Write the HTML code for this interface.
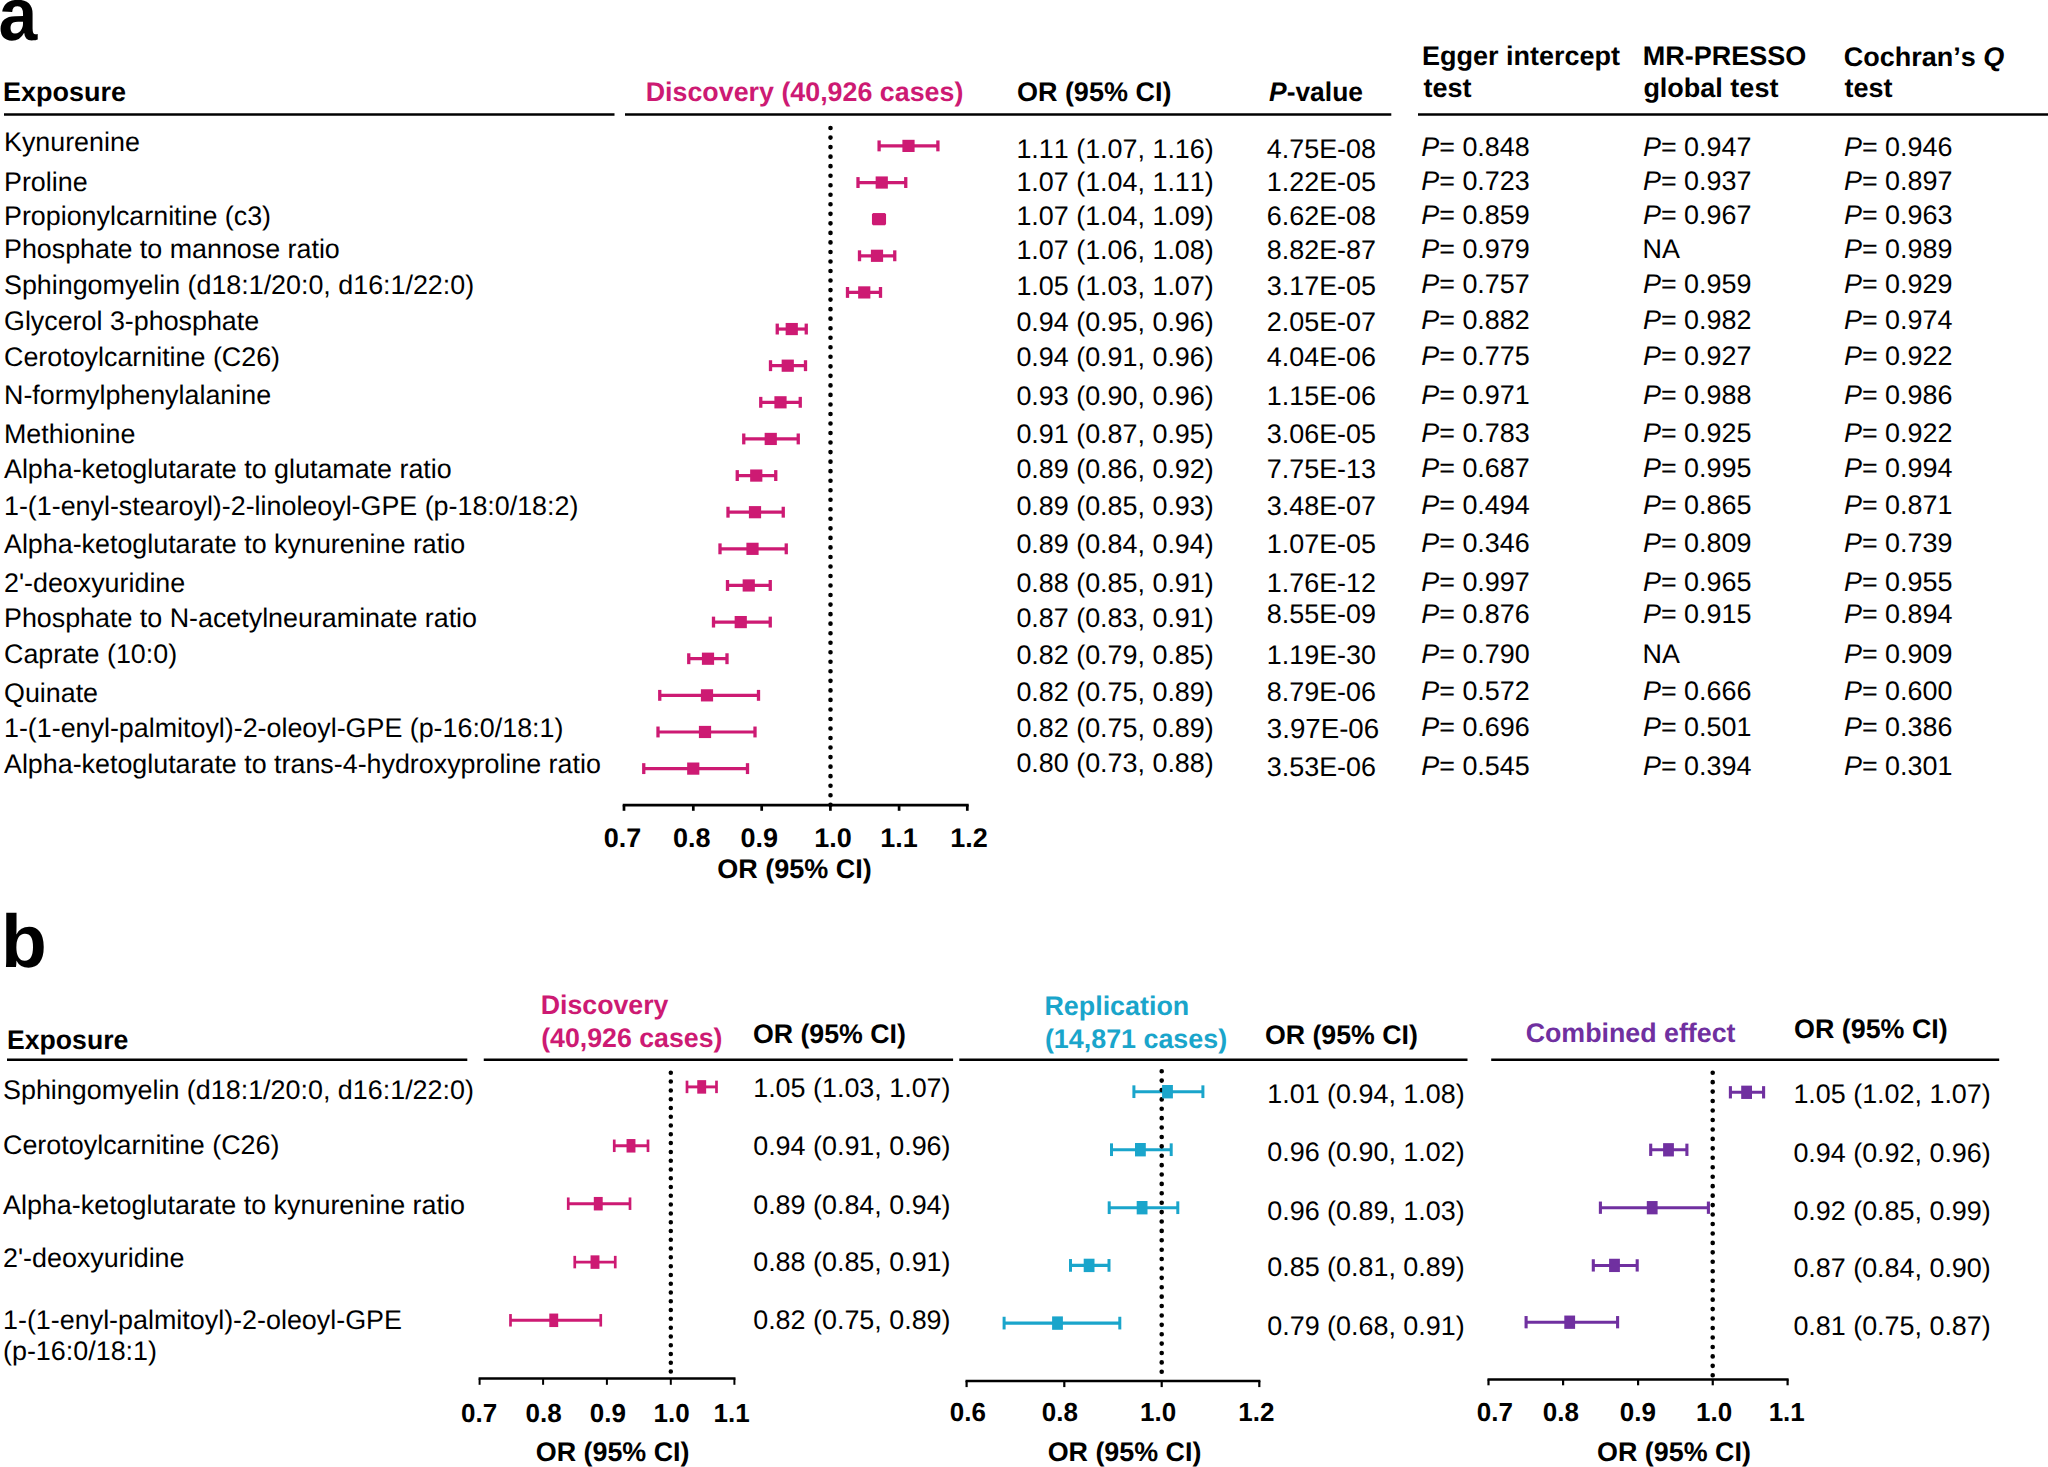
<!DOCTYPE html>
<html lang="en"><head><meta charset="utf-8"><title>Forest plots</title>
<style>
html,body{margin:0;padding:0;background:#fff}
body{width:2048px;height:1467px;overflow:hidden}
svg{display:block}
text{font-family:"Liberation Sans",sans-serif;font-kerning:none;text-rendering:geometricPrecision;white-space:pre}
</style></head><body>
<svg width="2048" height="1467" viewBox="0 0 2048 1467" role="img" aria-label="Forest plots of Mendelian randomization odds ratios">
<rect width="2048" height="1467" fill="#fff"/>
<g id="whiskers">
<line x1="879.10" y1="145.90" x2="937.90" y2="145.90" stroke="#cd1a73" stroke-width="3.2"/>
<line x1="879.10" y1="140.45" x2="879.10" y2="151.35" stroke="#cd1a73" stroke-width="3.3"/>
<line x1="937.90" y1="140.45" x2="937.90" y2="151.35" stroke="#cd1a73" stroke-width="3.3"/>
<line x1="858.00" y1="182.53" x2="905.75" y2="182.53" stroke="#cd1a73" stroke-width="3.2"/>
<line x1="858.00" y1="177.08" x2="858.00" y2="187.98" stroke="#cd1a73" stroke-width="3.3"/>
<line x1="905.75" y1="177.08" x2="905.75" y2="187.98" stroke="#cd1a73" stroke-width="3.3"/>
<line x1="873.60" y1="219.16" x2="884.40" y2="219.16" stroke="#cd1a73" stroke-width="3.2"/>
<line x1="873.60" y1="213.71" x2="873.60" y2="224.61" stroke="#cd1a73" stroke-width="3.3"/>
<line x1="884.40" y1="213.71" x2="884.40" y2="224.61" stroke="#cd1a73" stroke-width="3.3"/>
<line x1="859.50" y1="255.79" x2="894.75" y2="255.79" stroke="#cd1a73" stroke-width="3.2"/>
<line x1="859.50" y1="250.34" x2="859.50" y2="261.24" stroke="#cd1a73" stroke-width="3.3"/>
<line x1="894.75" y1="250.34" x2="894.75" y2="261.24" stroke="#cd1a73" stroke-width="3.3"/>
<line x1="847.50" y1="292.42" x2="880.50" y2="292.42" stroke="#cd1a73" stroke-width="3.2"/>
<line x1="847.50" y1="286.97" x2="847.50" y2="297.87" stroke="#cd1a73" stroke-width="3.3"/>
<line x1="880.50" y1="286.97" x2="880.50" y2="297.87" stroke="#cd1a73" stroke-width="3.3"/>
<line x1="777.25" y1="329.05" x2="806.25" y2="329.05" stroke="#cd1a73" stroke-width="3.2"/>
<line x1="777.25" y1="323.60" x2="777.25" y2="334.50" stroke="#cd1a73" stroke-width="3.3"/>
<line x1="806.25" y1="323.60" x2="806.25" y2="334.50" stroke="#cd1a73" stroke-width="3.3"/>
<line x1="770.50" y1="365.68" x2="805.50" y2="365.68" stroke="#cd1a73" stroke-width="3.2"/>
<line x1="770.50" y1="360.23" x2="770.50" y2="371.13" stroke="#cd1a73" stroke-width="3.3"/>
<line x1="805.50" y1="360.23" x2="805.50" y2="371.13" stroke="#cd1a73" stroke-width="3.3"/>
<line x1="760.75" y1="402.31" x2="800.25" y2="402.31" stroke="#cd1a73" stroke-width="3.2"/>
<line x1="760.75" y1="396.86" x2="760.75" y2="407.76" stroke="#cd1a73" stroke-width="3.3"/>
<line x1="800.25" y1="396.86" x2="800.25" y2="407.76" stroke="#cd1a73" stroke-width="3.3"/>
<line x1="743.75" y1="438.94" x2="798.25" y2="438.94" stroke="#cd1a73" stroke-width="3.2"/>
<line x1="743.75" y1="433.49" x2="743.75" y2="444.39" stroke="#cd1a73" stroke-width="3.3"/>
<line x1="798.25" y1="433.49" x2="798.25" y2="444.39" stroke="#cd1a73" stroke-width="3.3"/>
<line x1="737.25" y1="475.57" x2="775.75" y2="475.57" stroke="#cd1a73" stroke-width="3.2"/>
<line x1="737.25" y1="470.12" x2="737.25" y2="481.02" stroke="#cd1a73" stroke-width="3.3"/>
<line x1="775.75" y1="470.12" x2="775.75" y2="481.02" stroke="#cd1a73" stroke-width="3.3"/>
<line x1="728.00" y1="512.20" x2="783.25" y2="512.20" stroke="#cd1a73" stroke-width="3.2"/>
<line x1="728.00" y1="506.75" x2="728.00" y2="517.65" stroke="#cd1a73" stroke-width="3.3"/>
<line x1="783.25" y1="506.75" x2="783.25" y2="517.65" stroke="#cd1a73" stroke-width="3.3"/>
<line x1="720.00" y1="548.83" x2="786.25" y2="548.83" stroke="#cd1a73" stroke-width="3.2"/>
<line x1="720.00" y1="543.38" x2="720.00" y2="554.28" stroke="#cd1a73" stroke-width="3.3"/>
<line x1="786.25" y1="543.38" x2="786.25" y2="554.28" stroke="#cd1a73" stroke-width="3.3"/>
<line x1="727.50" y1="585.46" x2="770.25" y2="585.46" stroke="#cd1a73" stroke-width="3.2"/>
<line x1="727.50" y1="580.01" x2="727.50" y2="590.91" stroke="#cd1a73" stroke-width="3.3"/>
<line x1="770.25" y1="580.01" x2="770.25" y2="590.91" stroke="#cd1a73" stroke-width="3.3"/>
<line x1="713.50" y1="622.09" x2="770.25" y2="622.09" stroke="#cd1a73" stroke-width="3.2"/>
<line x1="713.50" y1="616.64" x2="713.50" y2="627.54" stroke="#cd1a73" stroke-width="3.3"/>
<line x1="770.25" y1="616.64" x2="770.25" y2="627.54" stroke="#cd1a73" stroke-width="3.3"/>
<line x1="688.75" y1="658.72" x2="727.00" y2="658.72" stroke="#cd1a73" stroke-width="3.2"/>
<line x1="688.75" y1="653.27" x2="688.75" y2="664.17" stroke="#cd1a73" stroke-width="3.3"/>
<line x1="727.00" y1="653.27" x2="727.00" y2="664.17" stroke="#cd1a73" stroke-width="3.3"/>
<line x1="659.75" y1="695.35" x2="758.50" y2="695.35" stroke="#cd1a73" stroke-width="3.2"/>
<line x1="659.75" y1="689.90" x2="659.75" y2="700.80" stroke="#cd1a73" stroke-width="3.3"/>
<line x1="758.50" y1="689.90" x2="758.50" y2="700.80" stroke="#cd1a73" stroke-width="3.3"/>
<line x1="658.00" y1="731.98" x2="755.00" y2="731.98" stroke="#cd1a73" stroke-width="3.2"/>
<line x1="658.00" y1="726.53" x2="658.00" y2="737.43" stroke="#cd1a73" stroke-width="3.3"/>
<line x1="755.00" y1="726.53" x2="755.00" y2="737.43" stroke="#cd1a73" stroke-width="3.3"/>
<line x1="643.75" y1="768.61" x2="747.50" y2="768.61" stroke="#cd1a73" stroke-width="3.2"/>
<line x1="643.75" y1="763.16" x2="643.75" y2="774.06" stroke="#cd1a73" stroke-width="3.3"/>
<line x1="747.50" y1="763.16" x2="747.50" y2="774.06" stroke="#cd1a73" stroke-width="3.3"/>
<line x1="687.00" y1="1086.90" x2="716.50" y2="1086.90" stroke="#cd1a73" stroke-width="2.9"/>
<line x1="687.00" y1="1080.65" x2="687.00" y2="1093.15" stroke="#cd1a73" stroke-width="2.7"/>
<line x1="716.50" y1="1080.65" x2="716.50" y2="1093.15" stroke="#cd1a73" stroke-width="2.7"/>
<line x1="614.25" y1="1145.80" x2="648.00" y2="1145.80" stroke="#cd1a73" stroke-width="2.9"/>
<line x1="614.25" y1="1139.55" x2="614.25" y2="1152.05" stroke="#cd1a73" stroke-width="2.7"/>
<line x1="648.00" y1="1139.55" x2="648.00" y2="1152.05" stroke="#cd1a73" stroke-width="2.7"/>
<line x1="568.25" y1="1203.70" x2="630.00" y2="1203.70" stroke="#cd1a73" stroke-width="2.9"/>
<line x1="568.25" y1="1197.45" x2="568.25" y2="1209.95" stroke="#cd1a73" stroke-width="2.7"/>
<line x1="630.00" y1="1197.45" x2="630.00" y2="1209.95" stroke="#cd1a73" stroke-width="2.7"/>
<line x1="574.75" y1="1262.10" x2="615.25" y2="1262.10" stroke="#cd1a73" stroke-width="2.9"/>
<line x1="574.75" y1="1255.85" x2="574.75" y2="1268.35" stroke="#cd1a73" stroke-width="2.7"/>
<line x1="615.25" y1="1255.85" x2="615.25" y2="1268.35" stroke="#cd1a73" stroke-width="2.7"/>
<line x1="510.50" y1="1320.30" x2="600.75" y2="1320.30" stroke="#cd1a73" stroke-width="2.9"/>
<line x1="510.50" y1="1314.05" x2="510.50" y2="1326.55" stroke="#cd1a73" stroke-width="2.7"/>
<line x1="600.75" y1="1314.05" x2="600.75" y2="1326.55" stroke="#cd1a73" stroke-width="2.7"/>
<line x1="1133.90" y1="1091.70" x2="1202.90" y2="1091.70" stroke="#1aa5cb" stroke-width="3.1"/>
<line x1="1133.90" y1="1085.35" x2="1133.90" y2="1098.05" stroke="#1aa5cb" stroke-width="3.0"/>
<line x1="1202.90" y1="1085.35" x2="1202.90" y2="1098.05" stroke="#1aa5cb" stroke-width="3.0"/>
<line x1="1111.50" y1="1149.70" x2="1171.20" y2="1149.70" stroke="#1aa5cb" stroke-width="3.1"/>
<line x1="1111.50" y1="1143.35" x2="1111.50" y2="1156.05" stroke="#1aa5cb" stroke-width="3.0"/>
<line x1="1171.20" y1="1143.35" x2="1171.20" y2="1156.05" stroke="#1aa5cb" stroke-width="3.0"/>
<line x1="1109.20" y1="1207.70" x2="1177.80" y2="1207.70" stroke="#1aa5cb" stroke-width="3.1"/>
<line x1="1109.20" y1="1201.35" x2="1109.20" y2="1214.05" stroke="#1aa5cb" stroke-width="3.0"/>
<line x1="1177.80" y1="1201.35" x2="1177.80" y2="1214.05" stroke="#1aa5cb" stroke-width="3.0"/>
<line x1="1070.50" y1="1265.40" x2="1109.00" y2="1265.40" stroke="#1aa5cb" stroke-width="3.1"/>
<line x1="1070.50" y1="1259.05" x2="1070.50" y2="1271.75" stroke="#1aa5cb" stroke-width="3.0"/>
<line x1="1109.00" y1="1259.05" x2="1109.00" y2="1271.75" stroke="#1aa5cb" stroke-width="3.0"/>
<line x1="1004.10" y1="1323.10" x2="1119.80" y2="1323.10" stroke="#1aa5cb" stroke-width="3.1"/>
<line x1="1004.10" y1="1316.75" x2="1004.10" y2="1329.45" stroke="#1aa5cb" stroke-width="3.0"/>
<line x1="1119.80" y1="1316.75" x2="1119.80" y2="1329.45" stroke="#1aa5cb" stroke-width="3.0"/>
<line x1="1730.40" y1="1092.30" x2="1763.60" y2="1092.30" stroke="#7030a0" stroke-width="3.0"/>
<line x1="1730.40" y1="1086.15" x2="1730.40" y2="1098.45" stroke="#7030a0" stroke-width="3.1"/>
<line x1="1763.60" y1="1086.15" x2="1763.60" y2="1098.45" stroke="#7030a0" stroke-width="3.1"/>
<line x1="1650.70" y1="1149.80" x2="1686.90" y2="1149.80" stroke="#7030a0" stroke-width="3.0"/>
<line x1="1650.70" y1="1143.65" x2="1650.70" y2="1155.95" stroke="#7030a0" stroke-width="3.1"/>
<line x1="1686.90" y1="1143.65" x2="1686.90" y2="1155.95" stroke="#7030a0" stroke-width="3.1"/>
<line x1="1600.40" y1="1207.70" x2="1708.40" y2="1207.70" stroke="#7030a0" stroke-width="3.0"/>
<line x1="1600.40" y1="1201.55" x2="1600.40" y2="1213.85" stroke="#7030a0" stroke-width="3.1"/>
<line x1="1708.40" y1="1201.55" x2="1708.40" y2="1213.85" stroke="#7030a0" stroke-width="3.1"/>
<line x1="1593.30" y1="1265.40" x2="1637.20" y2="1265.40" stroke="#7030a0" stroke-width="3.0"/>
<line x1="1593.30" y1="1259.25" x2="1593.30" y2="1271.55" stroke="#7030a0" stroke-width="3.1"/>
<line x1="1637.20" y1="1259.25" x2="1637.20" y2="1271.55" stroke="#7030a0" stroke-width="3.1"/>
<line x1="1526.10" y1="1322.20" x2="1617.60" y2="1322.20" stroke="#7030a0" stroke-width="3.0"/>
<line x1="1526.10" y1="1316.05" x2="1526.10" y2="1328.35" stroke="#7030a0" stroke-width="3.1"/>
<line x1="1617.60" y1="1316.05" x2="1617.60" y2="1328.35" stroke="#7030a0" stroke-width="3.1"/>
</g>
<g id="reference-lines">
<line x1="830.50" y1="128.05" x2="830.50" y2="804.76" stroke="#000" stroke-width="4.6" stroke-linecap="round" stroke-dasharray="0 9.5310"/>
<line x1="670.80" y1="1072.80" x2="670.80" y2="1371.61" stroke="#000" stroke-width="4.5" stroke-linecap="round" stroke-dasharray="0 8.7882"/>
<line x1="1161.70" y1="1071.20" x2="1161.70" y2="1371.81" stroke="#000" stroke-width="4.6" stroke-linecap="round" stroke-dasharray="0 9.3937"/>
<line x1="1712.70" y1="1072.70" x2="1712.70" y2="1375.31" stroke="#000" stroke-width="4.6" stroke-linecap="round" stroke-dasharray="0 9.4562"/>
</g>
<g id="estimates">
<rect x="902.40" y="139.80" width="12.20" height="12.20" fill="#cd1a73"/>
<rect x="875.65" y="176.43" width="12.20" height="12.20" fill="#cd1a73"/>
<rect x="872.90" y="213.06" width="12.20" height="12.20" fill="#cd1a73"/>
<rect x="870.90" y="249.69" width="12.20" height="12.20" fill="#cd1a73"/>
<rect x="858.15" y="286.32" width="12.20" height="12.20" fill="#cd1a73"/>
<rect x="785.65" y="322.95" width="12.20" height="12.20" fill="#cd1a73"/>
<rect x="781.65" y="359.58" width="12.20" height="12.20" fill="#cd1a73"/>
<rect x="774.40" y="396.21" width="12.20" height="12.20" fill="#cd1a73"/>
<rect x="764.65" y="432.84" width="12.20" height="12.20" fill="#cd1a73"/>
<rect x="750.15" y="469.47" width="12.20" height="12.20" fill="#cd1a73"/>
<rect x="748.90" y="506.10" width="12.20" height="12.20" fill="#cd1a73"/>
<rect x="746.40" y="542.73" width="12.20" height="12.20" fill="#cd1a73"/>
<rect x="742.65" y="579.36" width="12.20" height="12.20" fill="#cd1a73"/>
<rect x="734.65" y="615.99" width="12.20" height="12.20" fill="#cd1a73"/>
<rect x="701.90" y="652.62" width="12.20" height="12.20" fill="#cd1a73"/>
<rect x="700.90" y="689.25" width="12.20" height="12.20" fill="#cd1a73"/>
<rect x="698.90" y="725.88" width="12.20" height="12.20" fill="#cd1a73"/>
<rect x="687.15" y="762.51" width="12.20" height="12.20" fill="#cd1a73"/>
<rect x="697.25" y="1080.15" width="8.90" height="13.50" fill="#cd1a73"/>
<rect x="626.55" y="1139.05" width="8.90" height="13.50" fill="#cd1a73"/>
<rect x="593.80" y="1196.95" width="8.90" height="13.50" fill="#cd1a73"/>
<rect x="590.55" y="1255.35" width="8.90" height="13.50" fill="#cd1a73"/>
<rect x="549.30" y="1313.55" width="8.90" height="13.50" fill="#cd1a73"/>
<rect x="1162.10" y="1085.00" width="10.80" height="13.40" fill="#1aa5cb"/>
<rect x="1135.00" y="1143.00" width="10.80" height="13.40" fill="#1aa5cb"/>
<rect x="1136.70" y="1201.00" width="10.80" height="13.40" fill="#1aa5cb"/>
<rect x="1083.70" y="1258.70" width="10.80" height="13.40" fill="#1aa5cb"/>
<rect x="1052.10" y="1316.40" width="10.80" height="13.40" fill="#1aa5cb"/>
<rect x="1741.20" y="1085.65" width="10.80" height="13.30" fill="#7030a0"/>
<rect x="1663.10" y="1143.15" width="10.80" height="13.30" fill="#7030a0"/>
<rect x="1646.80" y="1201.05" width="10.80" height="13.30" fill="#7030a0"/>
<rect x="1609.10" y="1258.75" width="10.80" height="13.30" fill="#7030a0"/>
<rect x="1564.30" y="1315.55" width="10.80" height="13.30" fill="#7030a0"/>
</g>
<g id="labels">
<text x="-1.60" y="39.60" font-size="75" textLength="38.79" lengthAdjust="spacingAndGlyphs"><tspan font-weight="700">a</tspan></text>
<text x="2.89" y="101.20" font-size="27.0"><tspan font-weight="700">Exposure</tspan></text>
<text x="645.69" y="100.60" font-size="27.0" fill="#cd1a73" textLength="317.65" lengthAdjust="spacingAndGlyphs"><tspan font-weight="700">Discovery (40,926 cases)</tspan></text>
<text x="1016.89" y="101.25" font-size="27.0"><tspan font-weight="700">OR (95% CI)</tspan></text>
<text x="1269.03" y="101.25" font-size="27.0" textLength="93.93" lengthAdjust="spacingAndGlyphs"><tspan font-weight="700" font-style="italic">P</tspan><tspan font-weight="700">-value</tspan></text>
<text x="1421.94" y="65.40" font-size="27.0"><tspan font-weight="700">Egger intercept</tspan></text>
<text x="1423.42" y="96.90" font-size="27.0"><tspan font-weight="700">test</tspan></text>
<text x="1642.69" y="65.40" font-size="27.0"><tspan font-weight="700">MR-PRESSO</tspan></text>
<text x="1643.39" y="96.90" font-size="27.0"><tspan font-weight="700">global test</tspan></text>
<text x="1843.79" y="65.60" font-size="27.0"><tspan font-weight="700">Cochran’s </tspan><tspan font-weight="700" font-style="italic">Q</tspan></text>
<text x="1844.57" y="97.00" font-size="27.0"><tspan font-weight="700">test</tspan></text>
<line x1="4.00" y1="114.40" x2="614.50" y2="114.40" stroke="#000" stroke-width="2.5"/>
<line x1="625.00" y1="114.40" x2="1391.30" y2="114.40" stroke="#000" stroke-width="2.5"/>
<line x1="1418.00" y1="114.40" x2="2048.00" y2="114.40" stroke="#000" stroke-width="2.5"/>
<text x="4.00" y="151.25" font-size="26.85"><tspan>Kynurenine</tspan></text>
<text x="1016.40" y="157.50" font-size="26.9"><tspan>1.11 (1.07, 1.16)</tspan></text>
<text x="1266.80" y="157.50" font-size="26.9"><tspan>4.75E-08</tspan></text>
<text x="1421.30" y="156.25" font-size="26.9"><tspan font-style="italic">P</tspan><tspan>= 0.848</tspan></text>
<text x="1643.00" y="156.25" font-size="26.9"><tspan font-style="italic">P</tspan><tspan>= 0.947</tspan></text>
<text x="1844.00" y="156.25" font-size="26.9"><tspan font-style="italic">P</tspan><tspan>= 0.946</tspan></text>
<text x="4.00" y="190.75" font-size="26.85"><tspan>Proline</tspan></text>
<text x="1016.40" y="191.25" font-size="26.9"><tspan>1.07 (1.04, 1.11)</tspan></text>
<text x="1266.80" y="191.25" font-size="26.9"><tspan>1.22E-05</tspan></text>
<text x="1421.30" y="189.50" font-size="26.9"><tspan font-style="italic">P</tspan><tspan>= 0.723</tspan></text>
<text x="1643.00" y="189.50" font-size="26.9"><tspan font-style="italic">P</tspan><tspan>= 0.937</tspan></text>
<text x="1844.00" y="189.50" font-size="26.9"><tspan font-style="italic">P</tspan><tspan>= 0.897</tspan></text>
<text x="4.00" y="224.50" font-size="26.85"><tspan>Propionylcarnitine (c3)</tspan></text>
<text x="1016.40" y="225.00" font-size="26.9"><tspan>1.07 (1.04, 1.09)</tspan></text>
<text x="1266.80" y="225.00" font-size="26.9"><tspan>6.62E-08</tspan></text>
<text x="1421.30" y="223.50" font-size="26.9"><tspan font-style="italic">P</tspan><tspan>= 0.859</tspan></text>
<text x="1643.00" y="223.50" font-size="26.9"><tspan font-style="italic">P</tspan><tspan>= 0.967</tspan></text>
<text x="1844.00" y="223.50" font-size="26.9"><tspan font-style="italic">P</tspan><tspan>= 0.963</tspan></text>
<text x="4.00" y="258.25" font-size="26.85"><tspan>Phosphate to mannose ratio</tspan></text>
<text x="1016.40" y="258.75" font-size="26.9"><tspan>1.07 (1.06, 1.08)</tspan></text>
<text x="1266.80" y="258.75" font-size="26.9"><tspan>8.82E-87</tspan></text>
<text x="1421.30" y="257.50" font-size="26.9"><tspan font-style="italic">P</tspan><tspan>= 0.979</tspan></text>
<text x="1642.50" y="257.50" font-size="26.9"><tspan>NA</tspan></text>
<text x="1844.00" y="257.50" font-size="26.9"><tspan font-style="italic">P</tspan><tspan>= 0.989</tspan></text>
<text x="4.00" y="294.25" font-size="26.85"><tspan>Sphingomyelin (d18:1/20:0, d16:1/22:0)</tspan></text>
<text x="1016.40" y="294.50" font-size="26.9"><tspan>1.05 (1.03, 1.07)</tspan></text>
<text x="1266.80" y="294.50" font-size="26.9"><tspan>3.17E-05</tspan></text>
<text x="1421.30" y="293.25" font-size="26.9"><tspan font-style="italic">P</tspan><tspan>= 0.757</tspan></text>
<text x="1643.00" y="293.25" font-size="26.9"><tspan font-style="italic">P</tspan><tspan>= 0.959</tspan></text>
<text x="1844.00" y="293.25" font-size="26.9"><tspan font-style="italic">P</tspan><tspan>= 0.929</tspan></text>
<text x="4.00" y="330.00" font-size="26.85"><tspan>Glycerol 3-phosphate</tspan></text>
<text x="1016.40" y="330.50" font-size="26.9"><tspan>0.94 (0.95, 0.96)</tspan></text>
<text x="1266.80" y="330.50" font-size="26.9"><tspan>2.05E-07</tspan></text>
<text x="1421.30" y="329.25" font-size="26.9"><tspan font-style="italic">P</tspan><tspan>= 0.882</tspan></text>
<text x="1643.00" y="329.25" font-size="26.9"><tspan font-style="italic">P</tspan><tspan>= 0.982</tspan></text>
<text x="1844.00" y="329.25" font-size="26.9"><tspan font-style="italic">P</tspan><tspan>= 0.974</tspan></text>
<text x="4.00" y="366.00" font-size="26.85"><tspan>Cerotoylcarnitine (C26)</tspan></text>
<text x="1016.40" y="366.25" font-size="26.9"><tspan>0.94 (0.91, 0.96)</tspan></text>
<text x="1266.80" y="366.25" font-size="26.9"><tspan>4.04E-06</tspan></text>
<text x="1421.30" y="365.00" font-size="26.9"><tspan font-style="italic">P</tspan><tspan>= 0.775</tspan></text>
<text x="1643.00" y="365.00" font-size="26.9"><tspan font-style="italic">P</tspan><tspan>= 0.927</tspan></text>
<text x="1844.00" y="365.00" font-size="26.9"><tspan font-style="italic">P</tspan><tspan>= 0.922</tspan></text>
<text x="4.00" y="404.25" font-size="26.85"><tspan>N-formylphenylalanine</tspan></text>
<text x="1016.40" y="404.50" font-size="26.9"><tspan>0.93 (0.90, 0.96)</tspan></text>
<text x="1266.80" y="404.50" font-size="26.9"><tspan>1.15E-06</tspan></text>
<text x="1421.30" y="403.50" font-size="26.9"><tspan font-style="italic">P</tspan><tspan>= 0.971</tspan></text>
<text x="1643.00" y="403.50" font-size="26.9"><tspan font-style="italic">P</tspan><tspan>= 0.988</tspan></text>
<text x="1844.00" y="403.50" font-size="26.9"><tspan font-style="italic">P</tspan><tspan>= 0.986</tspan></text>
<text x="4.00" y="442.50" font-size="26.85"><tspan>Methionine</tspan></text>
<text x="1016.40" y="442.50" font-size="26.9"><tspan>0.91 (0.87, 0.95)</tspan></text>
<text x="1266.80" y="442.50" font-size="26.9"><tspan>3.06E-05</tspan></text>
<text x="1421.30" y="441.50" font-size="26.9"><tspan font-style="italic">P</tspan><tspan>= 0.783</tspan></text>
<text x="1643.00" y="441.50" font-size="26.9"><tspan font-style="italic">P</tspan><tspan>= 0.925</tspan></text>
<text x="1844.00" y="441.50" font-size="26.9"><tspan font-style="italic">P</tspan><tspan>= 0.922</tspan></text>
<text x="4.00" y="478.00" font-size="26.85"><tspan>Alpha-ketoglutarate to glutamate ratio</tspan></text>
<text x="1016.40" y="478.25" font-size="26.9"><tspan>0.89 (0.86, 0.92)</tspan></text>
<text x="1266.80" y="478.25" font-size="26.9"><tspan>7.75E-13</tspan></text>
<text x="1421.30" y="477.00" font-size="26.9"><tspan font-style="italic">P</tspan><tspan>= 0.687</tspan></text>
<text x="1643.00" y="477.00" font-size="26.9"><tspan font-style="italic">P</tspan><tspan>= 0.995</tspan></text>
<text x="1844.00" y="477.00" font-size="26.9"><tspan font-style="italic">P</tspan><tspan>= 0.994</tspan></text>
<text x="4.00" y="515.00" font-size="26.85"><tspan>1-(1-enyl-stearoyl)-2-linoleoyl-GPE (p-18:0/18:2)</tspan></text>
<text x="1016.40" y="515.00" font-size="26.9"><tspan>0.89 (0.85, 0.93)</tspan></text>
<text x="1266.80" y="515.00" font-size="26.9"><tspan>3.48E-07</tspan></text>
<text x="1421.30" y="514.30" font-size="26.9"><tspan font-style="italic">P</tspan><tspan>= 0.494</tspan></text>
<text x="1643.00" y="514.30" font-size="26.9"><tspan font-style="italic">P</tspan><tspan>= 0.865</tspan></text>
<text x="1844.00" y="514.30" font-size="26.9"><tspan font-style="italic">P</tspan><tspan>= 0.871</tspan></text>
<text x="4.00" y="553.00" font-size="26.85"><tspan>Alpha-ketoglutarate to kynurenine ratio</tspan></text>
<text x="1016.40" y="553.00" font-size="26.9"><tspan>0.89 (0.84, 0.94)</tspan></text>
<text x="1266.80" y="553.00" font-size="26.9"><tspan>1.07E-05</tspan></text>
<text x="1421.30" y="551.50" font-size="26.9"><tspan font-style="italic">P</tspan><tspan>= 0.346</tspan></text>
<text x="1643.00" y="551.50" font-size="26.9"><tspan font-style="italic">P</tspan><tspan>= 0.809</tspan></text>
<text x="1844.00" y="551.50" font-size="26.9"><tspan font-style="italic">P</tspan><tspan>= 0.739</tspan></text>
<text x="4.00" y="591.75" font-size="26.85"><tspan>2'-deoxyuridine</tspan></text>
<text x="1016.40" y="592.00" font-size="26.9"><tspan>0.88 (0.85, 0.91)</tspan></text>
<text x="1266.80" y="592.00" font-size="26.9"><tspan>1.76E-12</tspan></text>
<text x="1421.30" y="590.50" font-size="26.9"><tspan font-style="italic">P</tspan><tspan>= 0.997</tspan></text>
<text x="1643.00" y="590.50" font-size="26.9"><tspan font-style="italic">P</tspan><tspan>= 0.965</tspan></text>
<text x="1844.00" y="590.50" font-size="26.9"><tspan font-style="italic">P</tspan><tspan>= 0.955</tspan></text>
<text x="4.00" y="627.00" font-size="26.85"><tspan>Phosphate to N-acetylneuraminate ratio</tspan></text>
<text x="1016.40" y="627.00" font-size="26.9"><tspan>0.87 (0.83, 0.91)</tspan></text>
<text x="1266.80" y="623.25" font-size="26.9"><tspan>8.55E-09</tspan></text>
<text x="1421.30" y="622.50" font-size="26.9"><tspan font-style="italic">P</tspan><tspan>= 0.876</tspan></text>
<text x="1643.00" y="622.50" font-size="26.9"><tspan font-style="italic">P</tspan><tspan>= 0.915</tspan></text>
<text x="1844.00" y="622.50" font-size="26.9"><tspan font-style="italic">P</tspan><tspan>= 0.894</tspan></text>
<text x="4.00" y="663.00" font-size="26.85"><tspan>Caprate (10:0)</tspan></text>
<text x="1016.40" y="663.75" font-size="26.9"><tspan>0.82 (0.79, 0.85)</tspan></text>
<text x="1266.80" y="663.75" font-size="26.9"><tspan>1.19E-30</tspan></text>
<text x="1421.30" y="662.50" font-size="26.9"><tspan font-style="italic">P</tspan><tspan>= 0.790</tspan></text>
<text x="1642.50" y="662.50" font-size="26.9"><tspan>NA</tspan></text>
<text x="1844.00" y="662.50" font-size="26.9"><tspan font-style="italic">P</tspan><tspan>= 0.909</tspan></text>
<text x="4.00" y="702.00" font-size="26.85"><tspan>Quinate</tspan></text>
<text x="1016.40" y="700.75" font-size="26.9"><tspan>0.82 (0.75, 0.89)</tspan></text>
<text x="1266.80" y="700.75" font-size="26.9"><tspan>8.79E-06</tspan></text>
<text x="1421.30" y="699.50" font-size="26.9"><tspan font-style="italic">P</tspan><tspan>= 0.572</tspan></text>
<text x="1643.00" y="699.50" font-size="26.9"><tspan font-style="italic">P</tspan><tspan>= 0.666</tspan></text>
<text x="1844.00" y="699.50" font-size="26.9"><tspan font-style="italic">P</tspan><tspan>= 0.600</tspan></text>
<text x="4.00" y="736.75" font-size="26.85"><tspan>1-(1-enyl-palmitoyl)-2-oleoyl-GPE (p-16:0/18:1)</tspan></text>
<text x="1016.40" y="737.00" font-size="26.9"><tspan>0.82 (0.75, 0.89)</tspan></text>
<text x="1266.80" y="737.50" font-size="27.7"><tspan>3.97E-06</tspan></text>
<text x="1421.30" y="736.00" font-size="26.9"><tspan font-style="italic">P</tspan><tspan>= 0.696</tspan></text>
<text x="1643.00" y="736.00" font-size="26.9"><tspan font-style="italic">P</tspan><tspan>= 0.501</tspan></text>
<text x="1844.00" y="736.00" font-size="26.9"><tspan font-style="italic">P</tspan><tspan>= 0.386</tspan></text>
<text x="4.00" y="772.50" font-size="26.85"><tspan>Alpha-ketoglutarate to trans-4-hydroxyproline ratio</tspan></text>
<text x="1016.40" y="772.00" font-size="26.9"><tspan>0.80 (0.73, 0.88)</tspan></text>
<text x="1266.80" y="775.75" font-size="26.9"><tspan>3.53E-06</tspan></text>
<text x="1421.30" y="775.00" font-size="26.9"><tspan font-style="italic">P</tspan><tspan>= 0.545</tspan></text>
<text x="1643.00" y="775.00" font-size="26.9"><tspan font-style="italic">P</tspan><tspan>= 0.394</tspan></text>
<text x="1844.00" y="775.00" font-size="26.9"><tspan font-style="italic">P</tspan><tspan>= 0.301</tspan></text>
<line x1="622.70" y1="805.10" x2="968.70" y2="805.10" stroke="#000" stroke-width="2.7"/>
<line x1="624.00" y1="805.10" x2="624.00" y2="810.80" stroke="#000" stroke-width="2.7"/>
<line x1="693.30" y1="805.10" x2="693.30" y2="810.80" stroke="#000" stroke-width="2.7"/>
<line x1="761.70" y1="805.10" x2="761.70" y2="810.80" stroke="#000" stroke-width="2.7"/>
<line x1="830.40" y1="805.10" x2="830.40" y2="810.80" stroke="#000" stroke-width="2.7"/>
<line x1="899.10" y1="805.10" x2="899.10" y2="810.80" stroke="#000" stroke-width="2.7"/>
<line x1="967.30" y1="805.10" x2="967.30" y2="810.80" stroke="#000" stroke-width="2.7"/>
<text x="603.68" y="847.10" font-size="27.0"><tspan font-weight="700">0.7</tspan></text>
<text x="673.03" y="847.10" font-size="27.0"><tspan font-weight="700">0.8</tspan></text>
<text x="740.53" y="847.10" font-size="27.0"><tspan font-weight="700">0.9</tspan></text>
<text x="814.30" y="847.10" font-size="27.0"><tspan font-weight="700">1.0</tspan></text>
<text x="880.20" y="847.10" font-size="27.0"><tspan font-weight="700">1.1</tspan></text>
<text x="950.20" y="847.10" font-size="27.0"><tspan font-weight="700">1.2</tspan></text>
<text x="717.19" y="878.10" font-size="27.0"><tspan font-weight="700">OR (95% CI)</tspan></text>
<text x="1.02" y="966.80" font-size="75"><tspan font-weight="700">b</tspan></text>
<text x="7.09" y="1049.30" font-size="27.0" textLength="121.20" lengthAdjust="spacingAndGlyphs"><tspan font-weight="700">Exposure</tspan></text>
<line x1="7.00" y1="1059.70" x2="467.30" y2="1059.70" stroke="#000" stroke-width="2.5"/>
<line x1="483.75" y1="1059.70" x2="953.10" y2="1059.70" stroke="#000" stroke-width="2.5"/>
<line x1="959.30" y1="1059.70" x2="1467.50" y2="1059.70" stroke="#000" stroke-width="2.5"/>
<line x1="1491.20" y1="1059.70" x2="1999.20" y2="1059.70" stroke="#000" stroke-width="2.5"/>
<text x="3.00" y="1099.15" font-size="26.9"><tspan>Sphingomyelin (d18:1/20:0, d16:1/22:0)</tspan></text>
<text x="3.00" y="1154.15" font-size="26.9"><tspan>Cerotoylcarnitine (C26)</tspan></text>
<text x="3.00" y="1213.65" font-size="26.9"><tspan>Alpha-ketoglutarate to kynurenine ratio</tspan></text>
<text x="3.00" y="1267.40" font-size="26.9"><tspan>2'-deoxyuridine</tspan></text>
<text x="3.00" y="1329.15" font-size="26.9"><tspan>1-(1-enyl-palmitoyl)-2-oleoyl-GPE</tspan></text>
<text x="3.00" y="1360.40" font-size="26.9"><tspan>(p-16:0/18:1)</tspan></text>
<text x="540.69" y="1014.20" font-size="27.0" fill="#cd1a73" textLength="127.79" lengthAdjust="spacingAndGlyphs"><tspan font-weight="700">Discovery</tspan></text>
<text x="541.16" y="1047.40" font-size="27.0" fill="#cd1a73" textLength="181.32" lengthAdjust="spacingAndGlyphs"><tspan font-weight="700">(40,926 cases)</tspan></text>
<text x="752.89" y="1043.00" font-size="27.0" textLength="152.98" lengthAdjust="spacingAndGlyphs"><tspan font-weight="700">OR (95% CI)</tspan></text>
<text x="1044.44" y="1014.80" font-size="27.0" fill="#1aa5cb" textLength="144.79" lengthAdjust="spacingAndGlyphs"><tspan font-weight="700">Replication</tspan></text>
<text x="1044.91" y="1048.00" font-size="27.0" fill="#1aa5cb" textLength="182.23" lengthAdjust="spacingAndGlyphs"><tspan font-weight="700">(14,871 cases)</tspan></text>
<text x="1264.89" y="1043.80" font-size="27.0" textLength="152.98" lengthAdjust="spacingAndGlyphs"><tspan font-weight="700">OR (95% CI)</tspan></text>
<text x="1525.64" y="1042.00" font-size="27.0" fill="#7030a0" textLength="209.83" lengthAdjust="spacingAndGlyphs"><tspan font-weight="700">Combined effect</tspan></text>
<text x="1793.99" y="1038.00" font-size="27.0" textLength="153.75" lengthAdjust="spacingAndGlyphs"><tspan font-weight="700">OR (95% CI)</tspan></text>
<text x="753.20" y="1096.85" font-size="26.9"><tspan>1.05 (1.03, 1.07)</tspan></text>
<text x="753.20" y="1154.85" font-size="26.9"><tspan>0.94 (0.91, 0.96)</tspan></text>
<text x="753.20" y="1214.35" font-size="26.9"><tspan>0.89 (0.84, 0.94)</tspan></text>
<text x="753.20" y="1270.60" font-size="26.9"><tspan>0.88 (0.85, 0.91)</tspan></text>
<text x="753.20" y="1328.85" font-size="26.9"><tspan>0.82 (0.75, 0.89)</tspan></text>
<text x="1267.30" y="1103.00" font-size="26.9"><tspan>1.01 (0.94, 1.08)</tspan></text>
<text x="1267.30" y="1160.50" font-size="26.9"><tspan>0.96 (0.90, 1.02)</tspan></text>
<text x="1267.30" y="1219.75" font-size="26.9"><tspan>0.96 (0.89, 1.03)</tspan></text>
<text x="1267.30" y="1276.00" font-size="26.9"><tspan>0.85 (0.81, 0.89)</tspan></text>
<text x="1267.30" y="1334.75" font-size="26.9"><tspan>0.79 (0.68, 0.91)</tspan></text>
<text x="1793.40" y="1103.30" font-size="26.9"><tspan>1.05 (1.02, 1.07)</tspan></text>
<text x="1793.40" y="1161.60" font-size="26.9"><tspan>0.94 (0.92, 0.96)</tspan></text>
<text x="1793.40" y="1219.90" font-size="26.9"><tspan>0.92 (0.85, 0.99)</tspan></text>
<text x="1793.40" y="1276.60" font-size="26.9"><tspan>0.87 (0.84, 0.90)</tspan></text>
<text x="1793.40" y="1334.90" font-size="26.9"><tspan>0.81 (0.75, 0.87)</tspan></text>
<line x1="478.60" y1="1378.60" x2="735.50" y2="1378.60" stroke="#000" stroke-width="2.5"/>
<line x1="479.60" y1="1378.60" x2="479.60" y2="1384.80" stroke="#000" stroke-width="2.0"/>
<line x1="543.10" y1="1378.60" x2="543.10" y2="1384.80" stroke="#000" stroke-width="2.0"/>
<line x1="606.90" y1="1378.60" x2="606.90" y2="1384.80" stroke="#000" stroke-width="2.0"/>
<line x1="670.80" y1="1378.60" x2="670.80" y2="1384.80" stroke="#000" stroke-width="2.0"/>
<line x1="734.40" y1="1378.60" x2="734.40" y2="1384.80" stroke="#000" stroke-width="2.0"/>
<line x1="965.50" y1="1381.00" x2="1260.40" y2="1381.00" stroke="#000" stroke-width="2.5"/>
<line x1="966.60" y1="1381.00" x2="966.60" y2="1387.10" stroke="#000" stroke-width="2.2"/>
<line x1="1064.30" y1="1381.00" x2="1064.30" y2="1387.10" stroke="#000" stroke-width="2.2"/>
<line x1="1161.70" y1="1381.00" x2="1161.70" y2="1387.10" stroke="#000" stroke-width="2.2"/>
<line x1="1259.30" y1="1381.00" x2="1259.30" y2="1387.10" stroke="#000" stroke-width="2.2"/>
<line x1="1487.50" y1="1379.40" x2="1788.60" y2="1379.40" stroke="#000" stroke-width="2.5"/>
<line x1="1488.50" y1="1379.40" x2="1488.50" y2="1385.30" stroke="#000" stroke-width="2.2"/>
<line x1="1563.10" y1="1379.40" x2="1563.10" y2="1385.30" stroke="#000" stroke-width="2.2"/>
<line x1="1638.10" y1="1379.40" x2="1638.10" y2="1385.30" stroke="#000" stroke-width="2.2"/>
<line x1="1712.75" y1="1379.40" x2="1712.75" y2="1385.30" stroke="#000" stroke-width="2.2"/>
<line x1="1787.60" y1="1379.40" x2="1787.60" y2="1385.30" stroke="#000" stroke-width="2.2"/>
<text x="461.07" y="1421.60" font-size="26"><tspan font-weight="700">0.7</tspan></text>
<text x="525.57" y="1421.60" font-size="26"><tspan font-weight="700">0.8</tspan></text>
<text x="589.87" y="1421.60" font-size="26"><tspan font-weight="700">0.9</tspan></text>
<text x="653.46" y="1421.60" font-size="26"><tspan font-weight="700">1.0</tspan></text>
<text x="713.61" y="1421.60" font-size="26"><tspan font-weight="700">1.1</tspan></text>
<text x="949.87" y="1421.30" font-size="26"><tspan font-weight="700">0.6</tspan></text>
<text x="1041.72" y="1421.30" font-size="26"><tspan font-weight="700">0.8</tspan></text>
<text x="1139.96" y="1421.30" font-size="26"><tspan font-weight="700">1.0</tspan></text>
<text x="1238.36" y="1421.30" font-size="26"><tspan font-weight="700">1.2</tspan></text>
<text x="1476.77" y="1420.90" font-size="26"><tspan font-weight="700">0.7</tspan></text>
<text x="1542.77" y="1420.90" font-size="26"><tspan font-weight="700">0.8</tspan></text>
<text x="1619.87" y="1420.90" font-size="26"><tspan font-weight="700">0.9</tspan></text>
<text x="1696.11" y="1420.90" font-size="26"><tspan font-weight="700">1.0</tspan></text>
<text x="1768.66" y="1420.90" font-size="26"><tspan font-weight="700">1.1</tspan></text>
<text x="535.79" y="1460.80" font-size="27.0" textLength="153.75" lengthAdjust="spacingAndGlyphs"><tspan font-weight="700">OR (95% CI)</tspan></text>
<text x="1047.64" y="1461.40" font-size="27.0" textLength="153.75" lengthAdjust="spacingAndGlyphs"><tspan font-weight="700">OR (95% CI)</tspan></text>
<text x="1597.09" y="1460.80" font-size="27.0" textLength="153.75" lengthAdjust="spacingAndGlyphs"><tspan font-weight="700">OR (95% CI)</tspan></text>
</g>
</svg>
</body></html>
